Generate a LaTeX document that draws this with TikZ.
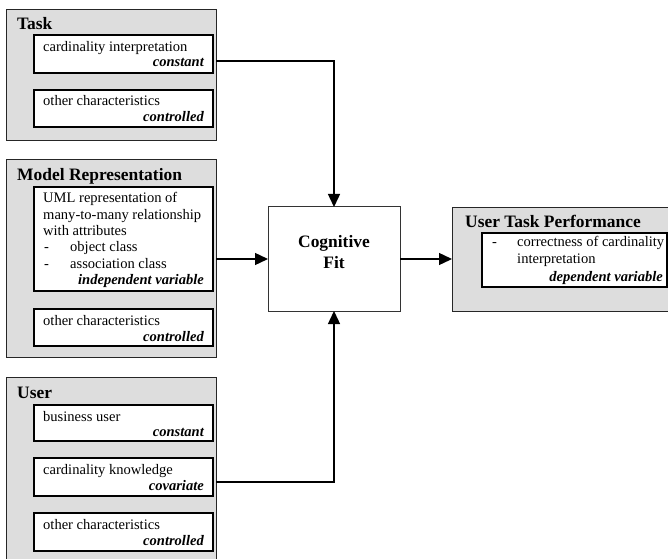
\documentclass[tikz,border=0pt]{standalone}
\usepackage{fontspec}
\setmainfont{Liberation Serif}
\usetikzlibrary{arrows.meta}
\definecolor{panelgray}{RGB}{221,221,221}
\begin{document}
\begin{tikzpicture}[x=1bp,y=-1bp,
  panel/.style={draw=black!85,fill=panelgray,line width=0.9bp,inner sep=0pt,outer sep=0pt,anchor=north west},
  item/.style={draw=black,fill=white,line width=1.1bp,inner sep=0pt,outer sep=0pt,anchor=north west},
  fitbox/.style={draw=black!80,fill=white,line width=1bp,inner sep=0pt,outer sep=0pt,anchor=north west},
  body/.style={font=\fontsize{14.6}{16.3}\selectfont,inner sep=0pt,anchor=base west},
  tag/.style={font=\fontsize{14.6}{16.3}\selectfont\bfseries\itshape,inner sep=0pt,anchor=base east},
  head/.style={font=\fontsize{17.5}{20}\selectfont\bfseries,inner sep=0pt},
  link/.style={line width=1.4bp,-{Triangle[length=13bp,width=12bp]}}]

\useasboundingbox (0,0) rectangle (668,559);

% ---- Task ----
\node[panel,minimum width=210bp,minimum height=131bp] (task) at (6,9) {};
\node[head,anchor=base west] (taskh) at ([xshift=11bp,yshift=-21bp]task.north west) {Task};
\node[item,minimum width=179bp,minimum height=38bp] (t1) at (34,35) {};
\node[body] (t1a) at ([xshift=9bp,yshift=-17bp]t1.north west) {cardinality interpretation};
\node[tag] (t1b) at ([xshift=-9bp,yshift=6bp]t1.south east) {constant};
\node[item,minimum width=179bp,minimum height=37bp] (t2) at (34,90) {};
\node[body] (t2a) at ([xshift=9bp,yshift=-16bp]t2.north west) {other characteristics};
\node[tag] (t2b) at ([xshift=-9bp,yshift=5bp]t2.south east) {controlled};

% ---- Model Representation ----
\node[panel,minimum width=210bp,minimum height=198bp] (model) at (6,159) {};
\node[head,anchor=base west] (modelh) at ([xshift=11bp,yshift=-22bp]model.north west) {Model Representation};
\node[item,minimum width=179bp,minimum height=104bp] (m1) at (34,187) {};
\node[body] (m1a) at ([xshift=9bp,yshift=-16bp]m1.north west) {UML representation of};
\node[body] (m1b) at ([yshift=-16.3bp]m1a.base west) {many-to-many relationship};
\node[body] (m1c) at ([yshift=-16.3bp]m1b.base west) {with attributes};
\node[body] (m1d) at ([xshift=1bp,yshift=-16.3bp]m1c.base west) {\makebox[26bp][l]{-}object class};
\node[body] (m1e) at ([yshift=-16.3bp]m1d.base west) {\makebox[26bp][l]{-}association class};
\node[tag] (m1f) at ([yshift=-16.3bp]m1.east |- m1e.base) [xshift=-9bp] {independent variable};
\node[item,minimum width=179bp,minimum height=37bp] (m2) at (34,309) {};
\node[body] (m2a) at ([xshift=9bp,yshift=-16bp]m2.north west) {other characteristics};
\node[tag] (m2b) at ([xshift=-9bp,yshift=5bp]m2.south east) {controlled};

% ---- User ----
\node[panel,minimum width=210bp,minimum height=190bp] (user) at (6,377) {};
\node[head,anchor=base west] (userh) at ([xshift=11bp,yshift=-21bp]user.north west) {User};
\node[item,minimum width=179bp,minimum height=36bp] (u1) at (34,405) {};
\node[body] (u1a) at ([xshift=9bp,yshift=-16bp]u1.north west) {business user};
\node[tag] (u1b) at ([xshift=-9bp,yshift=5bp]u1.south east) {constant};
\node[item,minimum width=179bp,minimum height=38bp] (u2) at (34,458) {};
\node[body] (u2a) at ([xshift=9bp,yshift=-16bp]u2.north west) {cardinality knowledge};
\node[tag] (u2b) at ([xshift=-9bp,yshift=6bp]u2.south east) {covariate};
\node[item,minimum width=179bp,minimum height=38bp] (u3) at (34,513) {};
\node[body] (u3a) at ([xshift=9bp,yshift=-16bp]u3.north west) {other characteristics};
\node[tag] (u3b) at ([xshift=-9bp,yshift=6bp]u3.south east) {controlled};

% ---- Cognitive Fit ----
\node[fitbox,minimum width=132bp,minimum height=104bp] (cog) at (268,207) {};
\node[head,anchor=base] (coga) at (334,248) {Cognitive};
\node[head,anchor=base] (cogb) at (334,268) {Fit};

% ---- User Task Performance ----
\node[panel,minimum width=224bp,minimum height=104bp] (perf) at (452,207) {};
\node[head,anchor=base west] (perfh) at ([xshift=13bp,yshift=-20bp]perf.north west) {User Task Performance};
\node[item,minimum width=185bp,minimum height=54bp] (p1) at (482,233) {};
\node[body] (p1a) at ([xshift=10bp,yshift=-14bp]p1.north west) {\makebox[25bp][l]{-}correctness of cardinality};
\node[body] (p1b) at ([xshift=25bp,yshift=-16.5bp]p1a.base west) {interpretation};
\node[tag] (p1c) at ([xshift=-4bp,yshift=6bp]p1.south east) {dependent variable};

% ---- connectors ----
\coordinate (tk) at (216,61);
\coordinate (uk) at (216,482);
\draw[link] (task.east |- tk) -- (cog.north |- tk) -- (cog.north);
\draw[link] (model.east |- cog.west) -- (cog.west);
\draw[link] (user.east |- uk) -- (cog.south |- uk) -- (cog.south);
\draw[link] (cog.east) -- (perf.west |- cog.east);
\end{tikzpicture}
\end{document}
